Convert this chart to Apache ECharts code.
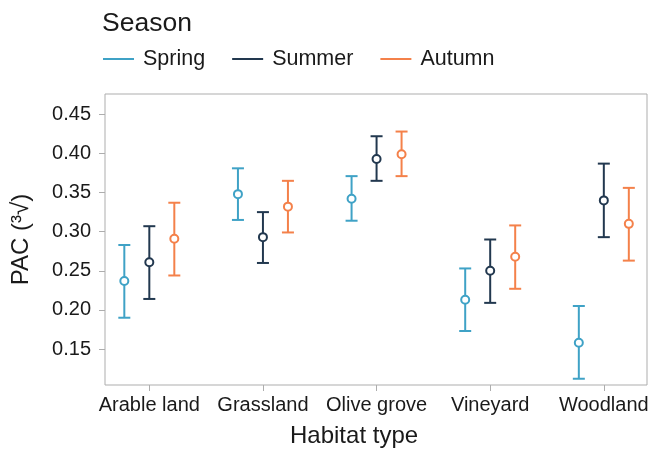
<!DOCTYPE html>
<html>
<head>
<meta charset="utf-8">
<script src="https://cdn.jsdelivr.net/npm/echarts@6/dist/echarts.min.js"></script>
<style>html,body{margin:0;padding:0;background:#fff;}#c{width:654px;height:454px;}</style>
</head>
<body>
<div id="c"></div>
<script>
const habitats = ['Arable land', 'Grassland', 'Olive grove', 'Vineyard', 'Woodland'];
const seasons = ['Spring', 'Summer', 'Autumn'];
const yTicks = [0.15, 0.20, 0.25, 0.30, 0.35, 0.40, 0.45];

const springMean  = [0.237, 0.348, 0.342, 0.213, 0.158];
const springLow   = [0.190, 0.315, 0.314, 0.173, 0.112];
const springHigh  = [0.283, 0.381, 0.371, 0.253, 0.205];

const summerMean  = [0.261, 0.293, 0.393, 0.250, 0.340];
const summerLow   = [0.214, 0.260, 0.365, 0.209, 0.293];
const summerHigh  = [0.307, 0.325, 0.422, 0.290, 0.387];

const autumnMean  = [0.291, 0.332, 0.399, 0.268, 0.310];
const autumnLow   = [0.244, 0.299, 0.371, 0.227, 0.263];
const autumnHigh  = [0.337, 0.365, 0.428, 0.308, 0.356];

const colors = ['#3fa2c6', '#22384f', '#f4814a'];
const dodge = [-0.22, 0, 0.22];
const means = [springMean, summerMean, autumnMean];
const lows = [springLow, summerLow, autumnLow];
const highs = [springHigh, summerHigh, autumnHigh];

const FONT = 'Liberation Sans, Arial, sans-serif';
const series = [];
seasons.forEach((s, k) => {
  const col = colors[k];
  series.push({
    type: 'custom',
    name: s + ' CI',
    data: habitats.map((h, i) => [i + dodge[k], lows[k][i], highs[k][i]]),
    encode: { x: 0, y: [1, 2] },
    z: 2,
    renderItem: function (params, api) {
      const x = api.value(0);
      const pLo = api.coord([x, api.value(1)]);
      const pHi = api.coord([x, api.value(2)]);
      const hw = 6;
      const st = { stroke: col, lineWidth: 2 };
      return {
        type: 'group',
        children: [
          { type: 'line', shape: { x1: pLo[0], y1: pLo[1], x2: pHi[0], y2: pHi[1] }, style: st },
          { type: 'line', shape: { x1: pHi[0] - hw, y1: pHi[1], x2: pHi[0] + hw, y2: pHi[1] }, style: st },
          { type: 'line', shape: { x1: pLo[0] - hw, y1: pLo[1], x2: pLo[0] + hw, y2: pLo[1] }, style: st }
        ]
      };
    }
  });
  series.push({
    type: 'scatter',
    name: s,
    data: habitats.map((h, i) => [i + dodge[k], means[k][i]]),
    symbol: 'circle',
    symbolSize: 8,
    z: 3,
    itemStyle: { color: '#ffffff', borderColor: col, borderWidth: 2, opacity: 1 }
  });
});

const chart = echarts.init(document.getElementById('c'));
chart.setOption({
  animation: false,
  backgroundColor: '#ffffff',
  title: {
    text: 'Season', left: 102, top: 10, padding: 0,
    textStyle: { fontFamily: FONT, fontSize: 26.5, fontWeight: 'normal', color: '#1a1a1a' }
  },
  legend: {
    left: 103, top: 48, padding: 0,
    itemWidth: 31, itemHeight: 2, itemGap: 27,
    icon: 'rect',
    data: seasons.map((s, k) => ({ name: s, itemStyle: { color: colors[k], borderWidth: 0 } })),
    textStyle: { fontFamily: FONT, fontSize: 21.5, color: '#1a1a1a', padding: [0, 0, 0, 4] }
  },
  grid: {
    left: 105, right: 7, top: 94, bottom: 69,
    show: true, borderColor: '#adadad', borderWidth: 1
  },
  xAxis: {
    type: 'value', min: -0.39, max: 4.38,
    axisLine: { show: false, onZero: false },
    splitLine: { show: false },
    axisTick: { show: true, length: 6, customValues: [0, 1, 2, 3, 4], lineStyle: { color: '#adadad' } },
    axisLabel: {
      customValues: [0, 1, 2, 3, 4], margin: 10,
      formatter: v => habitats[Math.round(v)],
      fontFamily: FONT, fontSize: 20, color: '#1a1a1a'
    }
  },
  yAxis: {
    type: 'value', min: 0.104, max: 0.476,
    name: 'PAC (³√)', nameLocation: 'middle', nameGap: 72, nameRotate: 90,
    nameTextStyle: { fontFamily: FONT, fontSize: 24, color: '#1a1a1a' },
    axisLine: { show: false, onZero: false },
    splitLine: { show: false },
    axisTick: { show: true, length: 6, customValues: yTicks, lineStyle: { color: '#adadad' } },
    axisLabel: {
      customValues: yTicks, margin: 14,
      formatter: v => v.toFixed(2),
      fontFamily: FONT, fontSize: 20, color: '#1a1a1a'
    }
  },
  graphic: [{
    type: 'text', left: 290, top: 424,
    style: { text: 'Habitat type', font: '24px ' + FONT, fill: '#1a1a1a' }
  }],
  series: series
});
</script>
</body>
</html>
